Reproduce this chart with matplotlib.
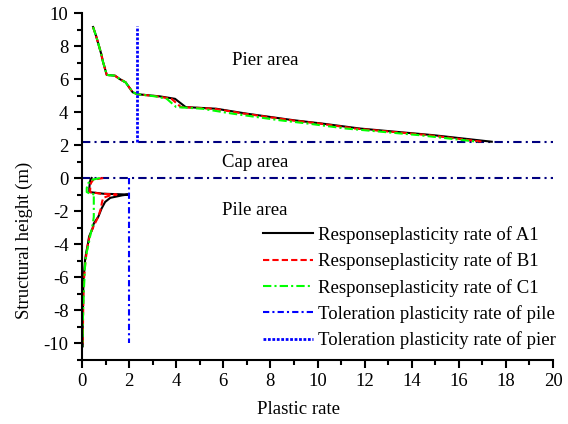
import numpy as np
from matplotlib import pyplot as plt
from matplotlib import rc
rc('font', **{'family': 'serif', 'serif': ['Liberation Serif']})
rc('axes', unicode_minus=False)

# pier part (above cap)
pier_y = [9.15, 8.6, 8.0, 7.5, 7.1, 6.5, 6.25, 6.2, 6.0, 5.8, 5.5, 5.2, 5.08,
          4.95, 4.8, 4.3, 4.2, 3.9, 3.5, 3.3, 3.0, 2.6, 2.2]
pier_a1 = [0.47, 0.6, 0.72, 0.82, 0.88, 1.0, 1.05, 1.4, 1.6, 1.85, 2.0, 2.15, 2.35,
           3.3, 3.95, 4.4, 5.7, 7.0, 9.0, 10.2, 11.8, 14.9, 17.4]
pier_b1 = [0.47, 0.6, 0.72, 0.82, 0.88, 1.0, 1.05, 1.4, 1.6, 1.85, 2.0, 2.15, 2.35,
           3.2, 3.8, 4.2, 5.6, 6.9, 8.9, 10.1, 11.6, 14.7, 17.0]
pier_c1 = [0.47, 0.6, 0.72, 0.82, 0.88, 1.0, 1.05, 1.4, 1.6, 1.85, 2.0, 2.15, 2.35,
           3.1, 3.6, 4.0, 5.1, 6.4, 8.4, 9.6, 11.2, 14.3, 16.8]

# pile part (below cap)
pile_y = [0.0, -0.1, -0.3, -0.6, -0.85, -0.95, -1.0, -1.05, -1.2, -1.45, -1.85,
          -2.35, -2.75, -3.05, -3.55, -4.0, -4.5, -4.97, -5.5, -6.2, -7.0, -8.0,
          -9.0, -10.2]
pile_a1 = [0.41, 0.36, 0.33, 0.31, 0.31, 0.9, 1.95, 1.7, 1.2, 0.98, 0.83, 0.69,
           0.5, 0.45, 0.3, 0.25, 0.18, 0.13, 0.1, 0.06, 0.05, 0.04, 0.03, 0.03]
pile_b1 = [0.9, 0.48, 0.38, 0.35, 0.34, 0.8, 1.47, 1.2, 0.9, 0.85, 0.8, 0.69,
           0.55, 0.45, 0.32, 0.25, 0.2, 0.15, 0.12, 0.08, 0.06, 0.05, 0.04, 0.03]
pile_c1 = [0.76, 0.45, 0.27, 0.2, 0.2, 0.35, 0.55, 0.5, 0.5, 0.5, 0.5, 0.5,
           0.46, 0.42, 0.34, 0.28, 0.2, 0.15, 0.12, 0.1, 0.07, 0.05, 0.03, 0.02]

pier_tol_x, pier_tol_y = [2.35, 2.35], [2.2, 9.2]
pile_tol_x, pile_tol_y = [2.0, 2.0], [0.0, -10.0]
cap_levels = [2.2, 0.0]

FS = 13.5

fig = plt.figure(figsize=(5.68, 4.24), dpi=100)
ax = fig.add_axes([0.1444, 0.152, 0.8292, 0.8173])

for lv in cap_levels:
    ax.plot([0, 20], [lv, lv], color='#000080', linewidth=1.5, linestyle=(0, (4, 2, 1, 2)))

ax.plot(pier_a1, pier_y, color='black', linewidth=1.5, label='Responseplasticity rate of A1')
ax.plot(pile_a1, pile_y, color='black', linewidth=1.5)
ax.plot(pier_b1, pier_y, color='red', linewidth=1.5, linestyle=(0, (3, 1.5)),
        label='Responseplasticity rate of B1')
ax.plot(pile_b1, pile_y, color='red', linewidth=1.5, linestyle=(0, (3, 1.5)))
ax.plot(pier_c1, pier_y, color='#00ff00', linewidth=1.5, linestyle=(0, (4, 1.5, 1, 1.5)),
        label='Responseplasticity rate of C1')
ax.plot(pile_c1, pile_y, color='#00ff00', linewidth=1.5, linestyle=(0, (4, 1.5, 1, 1.5)))
ax.plot(pile_tol_x, pile_tol_y, color='blue', linewidth=1.5, linestyle=(0, (3, 1.5, 1, 1.5)),
        label='Toleration plasticity rate of pile')
ax.plot(pier_tol_x, pier_tol_y, color='blue', linewidth=2.0, linestyle=(0, (1, 0.6)),
        label='Toleration plasticity rate of pier')

ax.text(7.77, 7.15, 'Pier area', fontsize=FS, ha='center', va='center')
ax.text(7.35, 0.97, 'Cap area', fontsize=FS, ha='center', va='center')
ax.text(7.35, -1.94, 'Pile area', fontsize=FS, ha='center', va='center')

ax.set_xlim(0, 20)
ax.set_ylim(-11, 10)
ax.set_xticks(np.arange(0, 21, 2))
ax.set_xticks(np.arange(0, 21, 1), minor=True)
ax.set_yticks(np.arange(-10, 11, 2))
ax.set_yticks(np.arange(-11, 11, 1), minor=True)
for s in ['top', 'right']:
    ax.spines[s].set_visible(False)
for s in ['left', 'bottom']:
    ax.spines[s].set_linewidth(1.5)
ax.tick_params(which='major', length=5.8, width=1.5, labelsize=FS, direction='out')
ax.tick_params(which='minor', length=3.5, width=1.5, direction='out')
ax.tick_params(axis='x', pad=4)
ax.tick_params(axis='y', pad=4)

ax.set_xlabel('Plastic rate', fontsize=FS)
ax.xaxis.set_label_coords(0.46, -0.12)
ax.set_ylabel('Structural height (m)', fontsize=FS)
ax.yaxis.set_label_coords(-0.105, 0.345)

ax.legend(loc='upper left', bbox_to_anchor=(0.384, 0.385), frameon=False, fontsize=FS,
          handlelength=2.67, handletextpad=0.27, labelspacing=0.45, borderaxespad=0,
          borderpad=0)

plt.savefig('out.png', dpi=100)
plt.close()
